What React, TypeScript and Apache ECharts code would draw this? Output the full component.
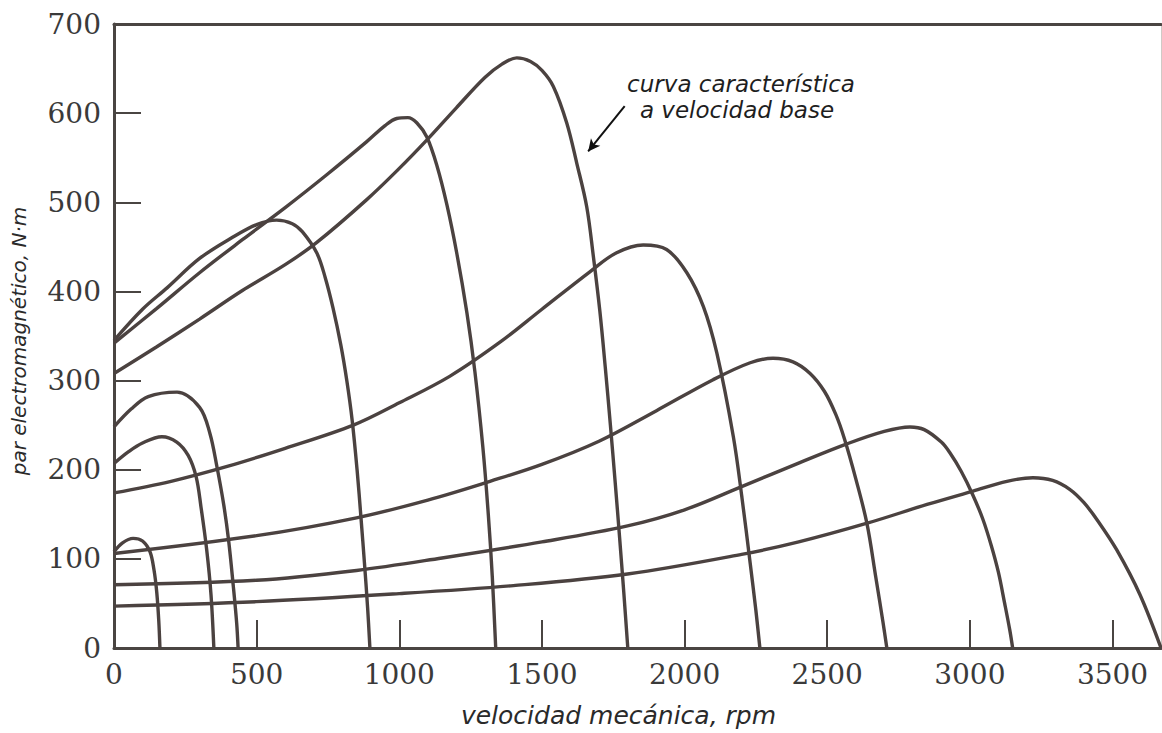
import React, { useEffect, useRef } from "react";
import * as echarts from "echarts";

// rpm, torque (N·m)
const curveA = [[0,108],[30,118],[67,123],[100,120],[126,108],[140,88],[150,62],[157,30],[161,0]];
const curveB = [[0,207],[50,220],[100,230],[168,237],[220,231],[260,216],[288,192],[305,158],[325,110],[340,60],[350,0]];
const curveC = [[0,248],[60,268],[120,282],[221,287],[300,270],[336,241],[361,203],[385,160],[402,120],[418,70],[430,28],[435,0]];
const curveD = [[0,345],[100,380],[186,404],[300,437],[417,461],[500,475],[570,480],[625,476],[660,467],[711,443],[740,416],[768,381],[795,340],[816,300],[835,255],[852,200],[866,145],[878,95],[889,45],[897,0]];
const curveE = [[0,342],[150,381],[300,421],[450,458],[600,494],[750,532],[886,568],[950,586],[991,594],[1030,595],[1062,589],[1097,573],[1132,541],[1167,497],[1202,442],[1237,376],[1265,310],[1293,225],[1312,150],[1326,80],[1338,0]];
const curveF = [[0,308],[150,338],[300,369],[450,401],[600,430],[711,455],[886,503],[1000,538],[1097,570],[1200,606],[1300,640],[1360,655],[1412,662],[1460,658],[1500,648],[1540,630],[1587,589],[1622,544],[1657,495],[1680,440],[1703,378],[1722,315],[1740,250],[1757,185],[1772,125],[1787,62],[1801,0]];
const curveG = [[0,174],[200,187],[400,204],[600,224],[839,250],[1000,275],[1178,305],[1353,343],[1500,380],[1668,422],[1760,443],[1855,452],[1937,447],[2008,421],[2066,383],[2113,331],[2171,237],[2201,169],[2230,95],[2250,42],[2264,0]];
const curveH = [[0,106],[500,126],[850,146],[1100,166],[1318,187],[1500,206],[1700,232],[1900,266],[2100,301],[2230,320],[2310,325],[2380,321],[2440,308],[2490,288],[2530,262],[2560,235],[2600,190],[2639,140],[2670,80],[2695,30],[2709,0]];
const curveI = [[0,71],[500,76],[850,87],[1150,101],[1500,119],[1800,137],[2000,155],[2200,181],[2404,208],[2569,229],[2700,243],[2790,248],[2840,245],[2900,231],[2930,219],[2970,198],[3010,172],[3045,145],[3075,115],[3100,85],[3122,50],[3140,20],[3150,0]];
const curveJ = [[0,47],[500,52],[1000,61],[1400,70],[1800,83],[2200,105],[2400,119],[2640,140],[2850,161],[3011,176],[3130,187],[3221,191],[3290,188],[3350,178],[3400,163],[3450,142],[3515,110],[3596,60],[3670,0]];

const curves = [curveA, curveB, curveC, curveD, curveE, curveF, curveG, curveH, curveI, curveJ];

const xTicks = [0, 500, 1000, 1500, 2000, 2500, 3000, 3500];
const yTicks = [0, 100, 200, 300, 400, 500, 600, 700];
const xMax = 3670;
const yMax = 700;

const xTitle = "velocidad mecánica, rpm";
const yTitle = "par electromagnético, N·m";
const noteLines = ["curva característica", "a velocidad base"];
// arrow from note to base curve, in data coordinates [rpm, torque]
const arrowFrom = [1790, 608];
const arrowTo = [1662, 557];

const lineColor = "#4b4240";
const axisColor = "#4a4542";

export default function App() {
  const ref = useRef<HTMLDivElement>(null);
  useEffect(() => {
    if (!ref.current) return;
    const chart = echarts.init(ref.current, null, { renderer: "svg" });
    const series: any[] = curves.map((c, i) => ({
      type: "line",
      data: c,
      xAxisIndex: 0,
      yAxisIndex: 0,
      smooth: 0.35,
      showSymbol: false,
      symbol: "none",
      lineStyle: { color: lineColor, width: 3.4 },
      silent: true,
      z: 3,
      markLine:
        i === 5
          ? {
              silent: true,
              symbol: ["none", "arrow"],
              symbolSize: [9, 12],
              label: { show: false },
              lineStyle: { color: "#111", width: 2, type: "solid" },
              data: [[{ coord: arrowFrom }, { coord: arrowTo }]],
            }
          : undefined,
    }));
    const tickFont = { fontFamily: "DejaVu Serif", fontSize: 28, color: "#3a3a3a" };
    chart.setOption({
      animation: false,
      backgroundColor: "#ffffff",
      grid: { left: 114, right: 1, top: 24, bottom: 85, containLabel: false },
      xAxis: [
        {
          type: "value",
          min: 0,
          max: xMax,
          interval: 500,
          position: "bottom",
          name: xTitle,
          nameLocation: "middle",
          nameGap: 55,
          nameTextStyle: { fontFamily: "DejaVu Sans", fontStyle: "italic", fontSize: 25, color: "#2a2a2a", padding: [0, 38, 0, 0] },
          axisLine: { show: true, onZero: false, lineStyle: { color: axisColor, width: 3 } },
          axisTick: { show: true, inside: true, length: 28, customValues: xTicks, lineStyle: { color: axisColor, width: 2 } },
          axisLabel: {
            customValues: xTicks,
            margin: 12,
            formatter: (v: number) => String(v),
            ...tickFont,
          },
          splitLine: { show: false },
        },
        {
          type: "value",
          min: 0,
          max: xMax,
          position: "top",
          axisLine: { show: true, onZero: false, lineStyle: { color: axisColor, width: 3 } },
          axisTick: { show: false },
          axisLabel: { show: false },
          splitLine: { show: false },
        },
      ],
      yAxis: [
        {
          type: "value",
          min: 0,
          max: yMax,
          interval: 100,
          name: yTitle,
          nameLocation: "middle",
          nameGap: 85,
          nameRotate: 90,
          nameTextStyle: { fontFamily: "DejaVu Sans", fontStyle: "italic", fontSize: 20, color: "#2a2a2a", padding: [0, 10, 0, 0] },
          axisLine: { show: true, onZero: false, lineStyle: { color: axisColor, width: 3 } },
          axisTick: { show: true, inside: true, length: 27, customValues: yTicks, lineStyle: { color: axisColor, width: 2 } },
          axisLabel: {
            customValues: yTicks,
            margin: 13,
            formatter: (v: number) => String(v),
            ...tickFont,
          },
          splitLine: { show: false },
        },
        {
          type: "value",
          min: 0,
          max: yMax,
          position: "right",
          axisLine: { show: true, onZero: false, lineStyle: { color: "#cfcac6", width: 1 } },
          axisTick: { show: false },
          axisLabel: { show: false },
          splitLine: { show: false },
        },
      ],
      graphic: [
        {
          type: "text",
          x: 741,
          y: 84,
          style: {
            text: noteLines[0],
            fontFamily: "DejaVu Sans",
            fontStyle: "italic",
            fontSize: 23,
            fill: "#1e1e1e",
            textAlign: "center",
            textVerticalAlign: "middle",
          },
        },
        {
          type: "text",
          x: 737,
          y: 110,
          style: {
            text: noteLines[1],
            fontFamily: "DejaVu Sans",
            fontStyle: "italic",
            fontSize: 23,
            fill: "#1e1e1e",
            textAlign: "center",
            textVerticalAlign: "middle",
          },
        },
      ],
      series,
    });
    return () => chart.dispose();
  }, []);
  return <div ref={ref} style={{ position: "fixed", left: 0, top: 0, width: 1162, height: 733 }} />;
}
